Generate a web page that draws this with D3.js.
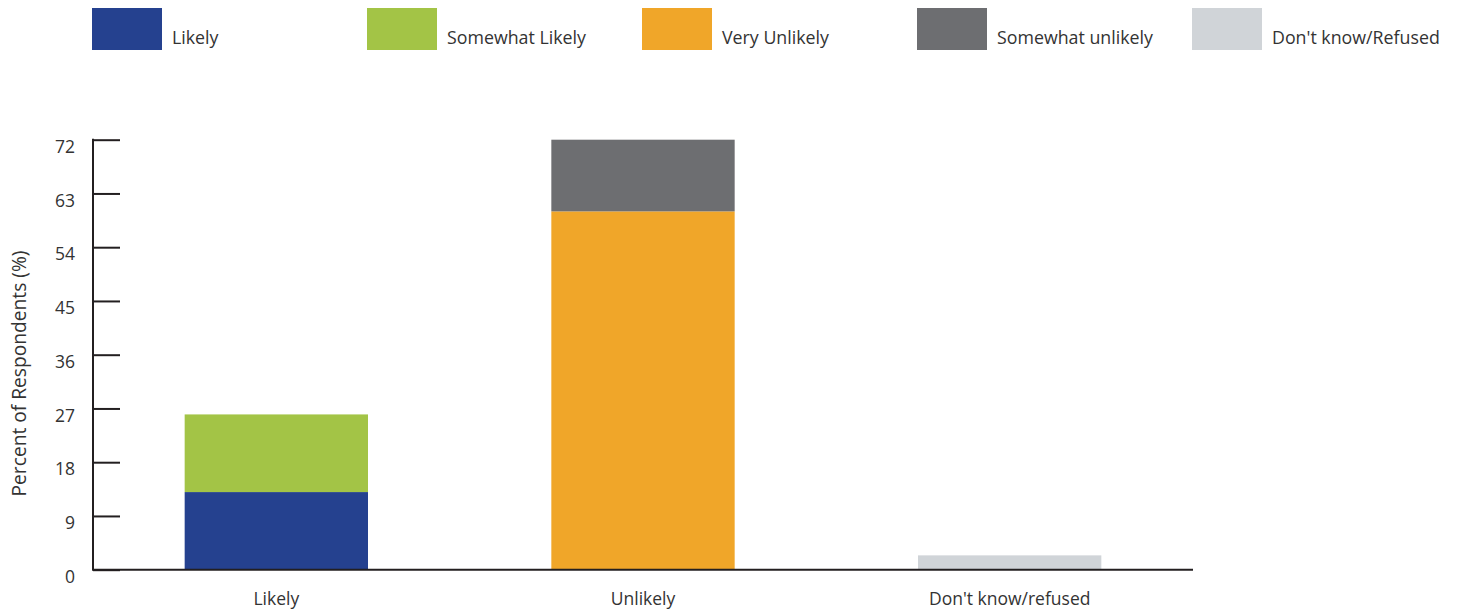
<!DOCTYPE html>
<html>
<head>
<meta charset="utf-8">
<script src="https://cdn.jsdelivr.net/npm/d3@7"></script>
<style>
  html, body { margin: 0; padding: 0; background: #fff; }
  svg { display: block; font-family: "Open Sans", "Noto Sans", sans-serif; }
</style>
</head>
<body>
<svg id="chart" width="1459" height="613"></svg>
<script>
const categories = ["Likely", "Unlikely", "Don't know/refused"];
const seriesNames = ["Likely", "Somewhat Likely", "Very Unlikely", "Somewhat unlikely", "Don't know/Refused"];
const seriesColors = ["#25418f", "#a3c446", "#f0a629", "#6d6e71", "#d0d4d8"];
// values per series, aligned to categories
const likelyVals = [13, 0, 0];
const somewhatLikelyVals = [13, 0, 0];
const veryUnlikelyVals = [0, 60, 0];
const somewhatUnlikelyVals = [0, 12, 0];
const dontKnowVals = [0, 0, 2.4];
const yTicks = [0, 9, 18, 27, 36, 45, 54, 63, 72];
const yTitle = "Percent of Respondents (%)";

(function () {
const allSeries = [likelyVals, somewhatLikelyVals, veryUnlikelyVals, somewhatUnlikelyVals, dontKnowVals];
const rows = categories.map((c, i) => {
  const r = { cat: c };
  seriesNames.forEach((s, j) => r[s] = allSeries[j][i]);
  return r;
});
const stacked = d3.stack().keys(seriesNames)(rows);

const svg = d3.select("#chart");
const pL = 93, pR = 1193, pT = 139.7, pB = 569.7;

const x = d3.scaleBand().domain(categories).range([pL, pR]).paddingInner(0.5).paddingOuter(0.25);
const y = d3.scaleLinear().domain([0, 72]).range([pB, pT]);

// bars
svg.append("g").selectAll("g").data(stacked).join("g")
  .attr("fill", (d, i) => seriesColors[i])
  .selectAll("rect").data(d => d.filter(p => p[1] - p[0] > 0)).join("rect")
  .attr("x", d => x(d.data.cat))
  .attr("width", x.bandwidth())
  .attr("y", d => y(d[1]))
  .attr("height", d => y(d[0]) - y(d[1]));

// y axis
const yAxis = svg.append("g").attr("transform", `translate(${pL},0)`)
  .call(d3.axisRight(y).tickValues(yTicks).tickSize(27).tickFormat(""));
yAxis.select(".domain").remove();
yAxis.selectAll(".tick line").attr("stroke", "#231f20").attr("stroke-width", 2);
svg.append("line").attr("x1", pL).attr("x2", pL).attr("y1", pT - 1).attr("y2", pB + 1)
  .attr("stroke", "#231f20").attr("stroke-width", 2);
svg.append("g").selectAll("text").data(yTicks).join("text")
  .attr("x", 75).attr("y", d => y(d) + 7).attr("dy", "0.35em")
  .attr("text-anchor", "end").attr("font-size", 17.5).attr("fill", "#333")
  .text(d => d);

// x axis
svg.append("line").attr("x1", pL).attr("x2", pR).attr("y1", pB).attr("y2", pB)
  .attr("stroke", "#231f20").attr("stroke-width", 2);
const xAxis = svg.append("g").attr("transform", `translate(0,${pB})`)
  .call(d3.axisBottom(x).tickSize(0).tickPadding(23));
xAxis.select(".domain").remove();
xAxis.selectAll("text").attr("font-size", 17.5).attr("fill", "#333").attr("font-family", "'Open Sans', 'Noto Sans', sans-serif");

// y title
svg.append("text").attr("transform", `translate(26,373.5) rotate(-90)`)
  .attr("text-anchor", "middle").attr("font-size", 19.2).attr("fill", "#333").text(yTitle);

// legend
const lg = svg.append("g").selectAll("g").data(seriesNames).join("g")
  .attr("transform", (d, i) => `translate(${92 + i * 275},8)`);
lg.append("rect").attr("width", 70).attr("height", 42).attr("fill", (d, i) => seriesColors[i]);
lg.append("text").attr("x", 80).attr("y", 36).attr("font-size", 17.8).attr("fill", "#333").text(d => d);
})();
</script>
</body>
</html>
